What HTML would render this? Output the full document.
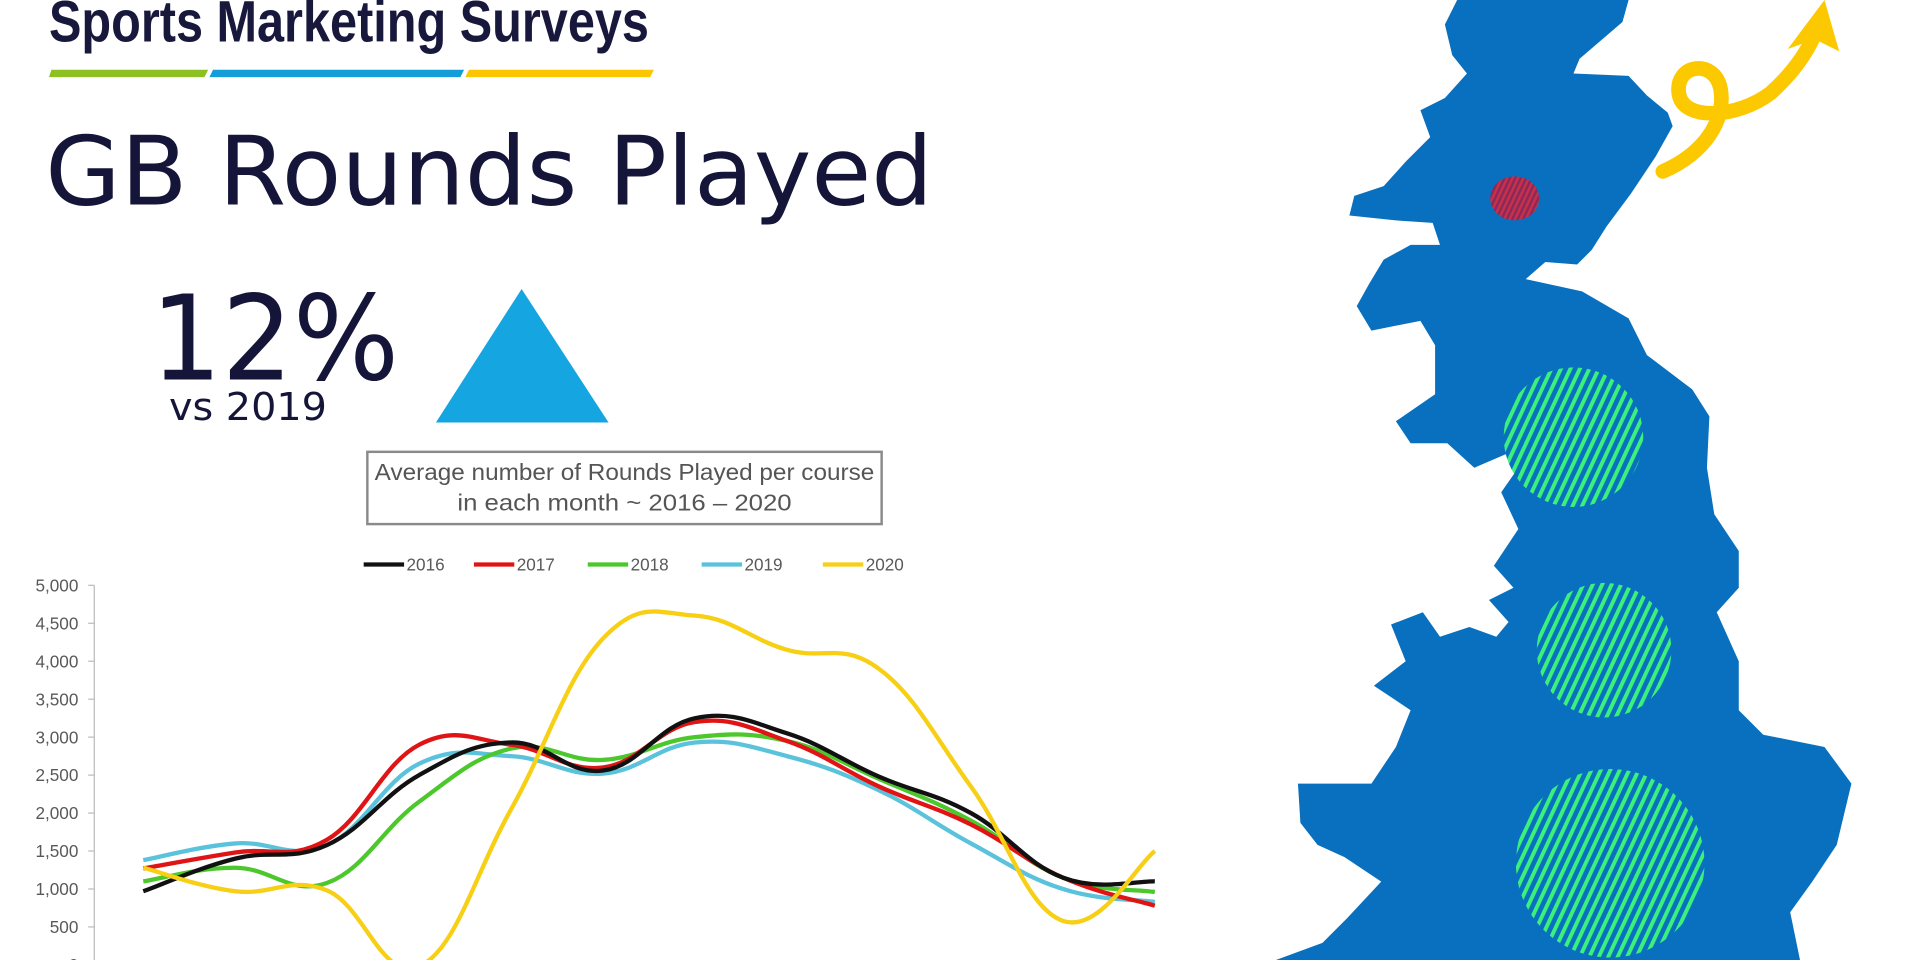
<!DOCTYPE html>
<html><head><meta charset="utf-8"><style>
html,body{margin:0;padding:0;background:#fff;width:1920px;height:960px;overflow:hidden}
svg{display:block}
</style></head><body>
<svg id="s" width="1920" height="960" viewBox="0 0 1568 784" xmlns="http://www.w3.org/2000/svg">
<defs>
<pattern id="hg" width="7" height="7" patternUnits="userSpaceOnUse" patternTransform="rotate(25)">
<rect width="7" height="7" fill="#0870be"/><rect width="3.2" height="7" fill="#3cf07c"/></pattern>
<pattern id="hr" width="4" height="4" patternUnits="userSpaceOnUse" patternTransform="rotate(25)">
<rect width="4" height="4" fill="#8a2a5a"/><rect width="2" height="4" fill="#c8304a"/></pattern>
</defs>
<text x="40" y="34" font-family="Liberation Sans Narrow, Liberation Sans, sans-serif" font-weight="bold" font-size="48" fill="#18183c" textLength="490" lengthAdjust="spacingAndGlyphs">Sports Marketing Surveys</text>
<polygon points="42,57 170,57 167,63 40,63" fill="#8dc021"/>
<polygon points="174,57 379,57 376,63 171,63" fill="#139ed9"/>
<polygon points="383,57 534,57 531,63 380,63" fill="#fbc600"/>
<text x="37" y="167" font-family="DejaVu Sans, sans-serif" font-size="78" fill="#15153a" textLength="725" lengthAdjust="spacingAndGlyphs">GB Rounds Played</text>
<text x="123" y="310" font-family="DejaVu Sans, sans-serif" font-size="96" fill="#15153a" textLength="203" lengthAdjust="spacingAndGlyphs">12%</text>
<text x="138" y="343" font-family="DejaVu Sans, sans-serif" font-size="31" fill="#15153a" textLength="129" lengthAdjust="spacingAndGlyphs">vs 2019</text>
<polygon points="426,236 497,345 356,345" fill="#15a5e0"/>
<rect x="300" y="369" width="420" height="59" fill="none" stroke="#8a8a8a" stroke-width="2"/>
<text x="510" y="392" text-anchor="middle" font-family="Liberation Sans Narrow, Liberation Sans, sans-serif" font-size="19" fill="#555" textLength="408" lengthAdjust="spacingAndGlyphs">Average number of Rounds Played per course</text>
<text x="510" y="417" text-anchor="middle" font-family="Liberation Sans Narrow, Liberation Sans, sans-serif" font-size="19" fill="#555" textLength="273" lengthAdjust="spacingAndGlyphs">in each month ~ 2016 – 2020</text>
<g id="chart" font-family="Liberation Sans Narrow, Liberation Sans, sans-serif" font-size="14" fill="#595959"></g>
<polygon fill="#0870be" points="1190,0 1330,0 1325,18 1290,48 1285,60 1330,62 1345,78 1362,92 1366,103 1352,128 1332,158 1312,185 1300,204 1288,216 1262,214 1246,228 1292,238 1330,260 1345,290 1382,318 1396,340 1394,382 1400,420 1420,450 1420,480 1402,500 1420,540 1420,580 1440,600 1490,610 1512,640 1500,690 1480,720 1462,745 1470,784 1042,784 1080,770 1100,750 1128,720 1098,700 1076,690 1062,672 1060,640 1120,640 1140,610 1152,580 1122,560 1148,540 1136,510 1162,500 1176,520 1200,512 1222,520 1232,508 1216,490 1236,480 1220,462 1240,432 1226,402 1240,382 1232,370 1204,382 1182,362 1152,362 1140,344 1172,322 1172,282 1160,262 1120,270 1108,250 1118,232 1130,212 1152,200 1176,200 1170,182 1140,180 1102,176 1106,160 1130,152 1148,132 1168,112 1160,90 1180,80 1198,60 1186,45 1180,20"/>
<ellipse cx="1237" cy="162" rx="20" ry="18" fill="url(#hr)"/>
<ellipse cx="1285" cy="357" rx="57" ry="57" fill="url(#hg)"/>
<ellipse cx="1310" cy="531" rx="55" ry="55" fill="url(#hg)"/>
<ellipse cx="1315" cy="705" rx="77" ry="77" fill="url(#hg)"/>
<path d="M1358,140 C1392,125 1410,98 1405,72 C1400,48 1368,52 1371,76 C1374,100 1420,96 1446,76 C1466,58 1476,42 1482,28" fill="none" stroke="#fcc800" stroke-width="12" stroke-linecap="round"/>
<polygon points="1460,40 1490,0 1502,42 1482,32" fill="#fcc800"/>
</svg>
<script>
(function(){
var g=document.getElementById('chart'),NS='http://www.w3.org/2000/svg';
function el(t,a,txt){var e=document.createElementNS(NS,t);for(var k in a)e.setAttribute(k,a[k]);if(txt)e.textContent=txt;g.appendChild(e);return e;}
var y0=788,py=0.062;function Y(v){return y0-v*py;}
el('line',{x1:77,y1:478,x2:77,y2:784,stroke:'#bbb','stroke-width':1});
for(var v=0;v<=5000;v+=500){var y=Y(v);el('line',{x1:72,y1:y,x2:77,y2:y,stroke:'#bbb'});
el('text',{x:64,y:y+5,'text-anchor':'end'},v.toLocaleString('en-US'));}
var cols=['#111','#e01414','#4cc72c','#5bc2dc','#f7cf14'],names=['2016','2017','2018','2019','2020'];
var lx=[297,387,480,573,672];
for(var i=0;i<5;i++){el('line',{x1:lx[i],y1:461,x2:lx[i]+33,y2:461,stroke:cols[i],'stroke-width':3.5});
el('text',{x:lx[i]+35,y:466,'font-size':14},names[i]);}
var D=[[970,1400,1580,2500,2930,2560,3250,3050,2480,2000,1150,1100],
[1270,1480,1650,2900,2900,2600,3200,2950,2350,1850,1150,780],
[1100,1280,1080,2150,2850,2700,3000,2950,2450,1900,1150,960],
[1380,1600,1580,2650,2750,2520,2930,2750,2300,1600,1000,830],
[1280,970,980,-20,2050,4300,4600,4150,3900,2350,580,1500]];
var order=[3,2,1,0,4];
order.forEach(function(i){var p=D[i].map(function(v,k){return [117+k*75.1,Y(v)];});
var d='M'+p[0][0]+','+p[0][1];
for(var k=0;k<p.length-1;k++){var a=p[k-1]||p[k],b=p[k],c=p[k+1],e=p[k+2]||c,t=0.2;
d+=' C'+(b[0]+(c[0]-a[0])*t)+','+(b[1]+(c[1]-a[1])*t)+' '+(c[0]-(e[0]-b[0])*t)+','+(c[1]-(e[1]-b[1])*t)+' '+c[0]+','+c[1];}
el('path',{d:d,fill:'none',stroke:cols[i],'stroke-width':3.5});});
})();
</script>
</body></html>
